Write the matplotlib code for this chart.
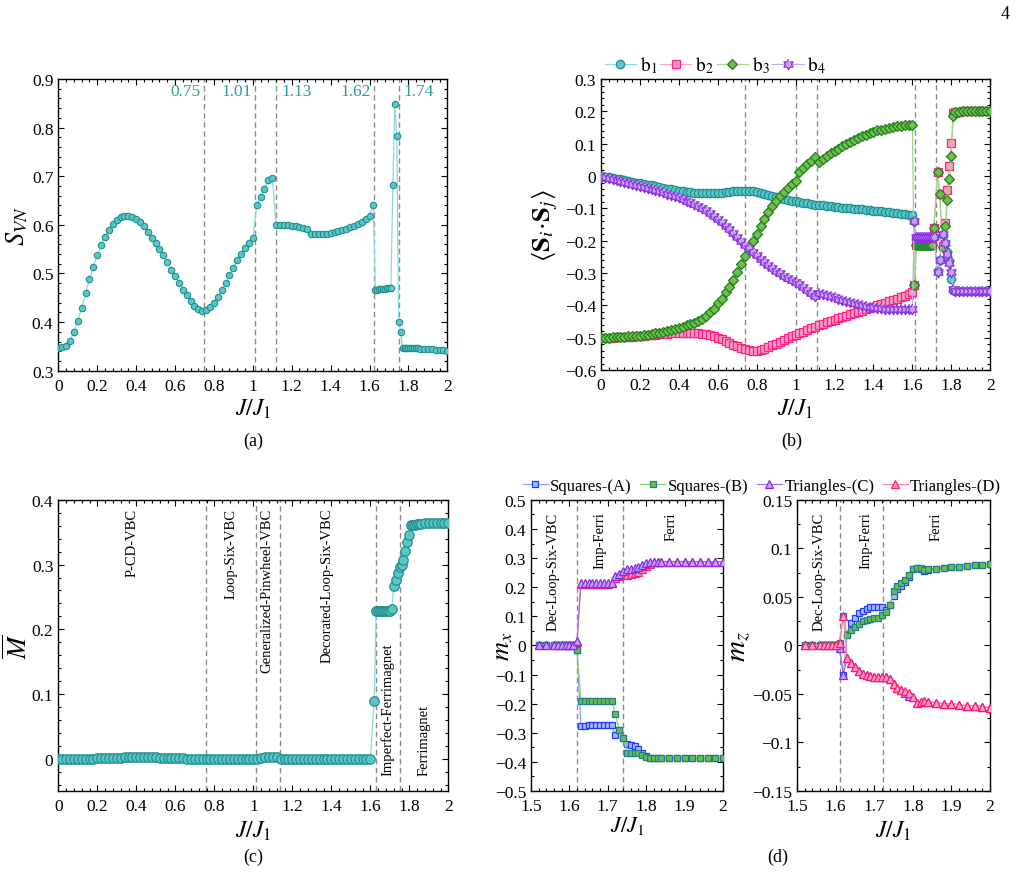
import numpy as np
import matplotlib
matplotlib.use("Agg")
import matplotlib.pyplot as plt
from matplotlib.ticker import MultipleLocator, FuncFormatter
from matplotlib.path import Path

plt.rcParams['font.family'] = ['Liberation Serif', 'DejaVu Serif']
plt.rcParams['mathtext.fontset'] = 'stix'

# ---------------- data ----------------
# (a) entanglement entropy
x_a = np.round(np.concatenate([np.arange(0, 1.621, 0.02), np.arange(1.63, 1.761, 0.01),
                               np.arange(1.77, 1.851, 0.01), np.arange(1.86, 2.001, 0.02)]), 3)
s_vn = [0.347, 0.348, 0.351, 0.361, 0.379, 0.402, 0.430, 0.459, 0.488, 0.514,
        0.537, 0.558, 0.576, 0.590, 0.602, 0.611, 0.616, 0.619, 0.619, 0.617,
        0.612, 0.605, 0.597, 0.586, 0.574, 0.563, 0.551, 0.537, 0.523, 0.508,
        0.495, 0.481, 0.467, 0.455, 0.443, 0.434, 0.427, 0.423, 0.425, 0.431,
        0.440, 0.452, 0.466, 0.480, 0.497, 0.512, 0.527, 0.541, 0.553, 0.563,
        0.572, 0.640, 0.657, 0.674, 0.692, 0.697, 0.599, 0.599, 0.599, 0.599,
        0.598, 0.597, 0.596, 0.594, 0.591, 0.582, 0.581, 0.581, 0.581, 0.582,
        0.583, 0.585, 0.587, 0.589, 0.592, 0.595, 0.598, 0.602, 0.606, 0.613,
        0.619, 0.641,
        0.467, 0.467, 0.468, 0.468, 0.469, 0.469, 0.470, 0.470, 0.471,
        0.682, 0.849, 0.782, 0.400, 0.380,
        0.347, 0.347, 0.347, 0.347, 0.347, 0.347, 0.346, 0.346, 0.346,
        0.345, 0.345, 0.344, 0.344, 0.343, 0.343, 0.342, 0.341]
lines_a = [0.75, 1.013, 1.12, 1.625, 1.75]
labels_a = ['0.75', '1.01', '1.13', '1.62', '1.74']

# (b) bond correlations
x_b = np.round(np.concatenate([np.arange(0, 1.601, 0.02), [1.61], np.arange(1.62, 1.701, 0.01),
                               [1.71, 1.73, 1.74, 1.755, 1.77, 1.78, 1.79, 1.80, 1.81],
                               np.arange(1.82, 2.001, 0.02)]), 3)
b1 = [0.000, -0.002, -0.004, -0.006, -0.008, -0.010, -0.012, -0.015, -0.017, -0.020,
      -0.022, -0.024, -0.027, -0.029, -0.032, -0.034, -0.036, -0.039, -0.041, -0.043,
      -0.045, -0.047, -0.049, -0.050, -0.051, -0.052, -0.052, -0.053, -0.053, -0.053,
      -0.052, -0.051, -0.050, -0.048, -0.047, -0.046, -0.045, -0.045, -0.045, -0.047,
      -0.050, -0.053, -0.056, -0.060, -0.063, -0.066, -0.069, -0.071, -0.074, -0.076,
      -0.078, -0.080, -0.082, -0.084, -0.086, -0.088, -0.090, -0.091, -0.093, -0.094,
      -0.096, -0.097, -0.098, -0.099, -0.100, -0.101, -0.102, -0.103, -0.104, -0.106,
      -0.107, -0.108, -0.109, -0.110, -0.112, -0.113, -0.114, -0.116, -0.117, -0.119,
      -0.121,
      -0.140,
      -0.190, -0.190, -0.190, -0.190, -0.190, -0.190, -0.190, -0.190, -0.190,
      -0.190, -0.295, -0.260, -0.182, -0.207, -0.235, -0.262, -0.317, -0.352,
      -0.355, -0.355, -0.355, -0.355, -0.355, -0.355, -0.355, -0.355, -0.355, -0.355]
b2 = [-0.500, -0.500, -0.500, -0.500, -0.499, -0.499, -0.498, -0.498, -0.497, -0.496,
      -0.495, -0.494, -0.493, -0.492, -0.491, -0.490, -0.489, -0.488, -0.487, -0.487,
      -0.486, -0.486, -0.486, -0.486, -0.486, -0.487, -0.488, -0.490, -0.493, -0.496,
      -0.500, -0.505, -0.510, -0.516, -0.522, -0.527, -0.532, -0.536, -0.539, -0.540,
      -0.540, -0.538, -0.535, -0.530, -0.524, -0.518, -0.512, -0.506, -0.500, -0.495,
      -0.491, -0.486, -0.481, -0.476, -0.471, -0.466, -0.461, -0.457, -0.452, -0.448,
      -0.444, -0.440, -0.436, -0.432, -0.428, -0.424, -0.420, -0.416, -0.412, -0.408,
      -0.404, -0.400, -0.396, -0.392, -0.387, -0.383, -0.379, -0.375, -0.370, -0.365,
      -0.358,
      -0.337,
      -0.213, -0.213, -0.213, -0.213, -0.213, -0.213, -0.213, -0.213, -0.213,
      -0.162, 0.014, -0.055, -0.215, -0.145, -0.043, 0.032, 0.103, 0.194,
      0.198, 0.199, 0.200, 0.200, 0.200, 0.200, 0.200, 0.200, 0.200, 0.200]
b3 = [-0.500, -0.500, -0.500, -0.499, -0.499, -0.498, -0.497, -0.496, -0.495, -0.495,
      -0.494, -0.493, -0.491, -0.489, -0.487, -0.485, -0.483, -0.480, -0.477, -0.474,
      -0.470, -0.466, -0.462, -0.458, -0.453, -0.448, -0.442, -0.432, -0.422, -0.410,
      -0.394, -0.380, -0.360, -0.342, -0.321, -0.298, -0.272, -0.248, -0.222, -0.200,
      -0.180, -0.155, -0.133, -0.112, -0.093, -0.076, -0.062, -0.049, -0.037, -0.025,
      -0.014, 0.012, 0.025, 0.037, 0.048, 0.058, 0.045, 0.053, 0.061, 0.070,
      0.078, 0.085, 0.092, 0.099, 0.105, 0.111, 0.117, 0.123, 0.128, 0.133,
      0.137, 0.141, 0.144, 0.147, 0.150, 0.152, 0.154, 0.156, 0.157, 0.158,
      0.159,
      -0.337,
      -0.213, -0.213, -0.213, -0.213, -0.213, -0.213, -0.213, -0.213, -0.213,
      -0.162, 0.014, -0.055, -0.219, -0.156, -0.073, -0.009, 0.063, 0.186,
      0.197, 0.199, 0.200, 0.200, 0.200, 0.200, 0.200, 0.200, 0.200, 0.200]
b4 = [-0.002, -0.004, -0.006, -0.009, -0.012, -0.015, -0.018, -0.021, -0.025, -0.028,
      -0.031, -0.034, -0.037, -0.040, -0.043, -0.046, -0.050, -0.054, -0.058, -0.062,
      -0.066, -0.071, -0.076, -0.081, -0.086, -0.092, -0.098, -0.106, -0.114, -0.123,
      -0.133, -0.143, -0.154, -0.165, -0.177, -0.188, -0.200, -0.212, -0.222, -0.235,
      -0.245, -0.256, -0.266, -0.275, -0.284, -0.293, -0.300, -0.308, -0.314, -0.320,
      -0.327, -0.335, -0.344, -0.354, -0.362, -0.370, -0.361, -0.364, -0.367, -0.371,
      -0.375, -0.379, -0.383, -0.387, -0.390, -0.394, -0.397, -0.400, -0.403, -0.405,
      -0.406, -0.408, -0.409, -0.410, -0.410, -0.411, -0.411, -0.411, -0.412, -0.412,
      -0.412,
      -0.140,
      -0.190, -0.190, -0.190, -0.190, -0.190, -0.190, -0.190, -0.190, -0.190,
      -0.190, -0.298, -0.260, -0.179, -0.208, -0.241, -0.269, -0.298, -0.350,
      -0.355, -0.355, -0.355, -0.355, -0.355, -0.355, -0.355, -0.355, -0.355, -0.355]
lines_b = [0.74, 1.0, 1.11, 1.615, 1.72]

# (c) average magnetization
x_c = np.round(np.concatenate([np.arange(0, 1.601, 0.02), [1.62], np.arange(1.63, 1.851, 0.01),
                               np.arange(1.86, 2.001, 0.02)]), 3)
m_bar = [0.000, 0.000, 0.000, 0.000, 0.000, 0.000, 0.000, 0.000, 0.000, 0.000,
         0.001, 0.001, 0.001, 0.001, 0.001, 0.001, 0.001, 0.002, 0.002, 0.002,
         0.002, 0.002, 0.002, 0.002, 0.002, 0.002, 0.001, 0.001, 0.001, 0.001,
         0.001, 0.001, 0.001, 0.000, 0.000, 0.000, 0.000, 0.000, 0.000, 0.000,
         0.000, 0.000, 0.000, 0.000, 0.000, 0.000, 0.000, 0.000, 0.000, 0.000,
         0.000, 0.000, 0.001, 0.002, 0.003, 0.003, 0.003, 0.000, 0.000, 0.000,
         0.000, 0.000, 0.000, 0.000, 0.000, 0.000, 0.000, 0.000, 0.000, 0.000,
         0.000, 0.000, 0.000, 0.000, 0.000, 0.000, 0.000, 0.000, 0.000, 0.000,
         0.000,
         0.089,
         0.228, 0.228, 0.228, 0.228, 0.228, 0.228, 0.228, 0.228, 0.232, 0.267,
         0.276, 0.287, 0.296, 0.299, 0.307, 0.321, 0.335, 0.346, 0.361, 0.362,
         0.362, 0.363, 0.363,
         0.363, 0.364, 0.364, 0.364, 0.365, 0.365, 0.365, 0.365]
lines_c = [0.757, 1.015, 1.135, 1.628, 1.753]
phases_c = ['P-CD-VBC', 'Loop-Six-VBC', 'Generalized-Pinwheel-VBC', 'Decorated-Loop-Six-VBC',
            'Imperfect-Ferrimagnet', 'Ferrimagnet']
phase_x_c = [0.378, 0.887, 1.07, 1.38, 1.687, 1.875]

# (d) sublattice magnetizations
x_d = np.round(np.concatenate([[1.52, 1.54, 1.56, 1.57, 1.58, 1.59, 1.60, 1.61],
                               np.arange(1.62, 1.841, 0.01), np.arange(1.86, 2.001, 0.02)]), 3)
tail_mx_sq = [-0.388] * 8
mx_A = [0, 0, 0, 0, 0, 0, 0, 0,
        -0.015, -0.277, -0.276, -0.275, -0.275, -0.274, -0.274, -0.273, -0.274, -0.275,
        -0.306, -0.289, -0.317, -0.340, -0.341, -0.346, -0.357, -0.369, -0.380, -0.387,
        -0.388, -0.388, -0.388] + tail_mx_sq
mx_B = [0, 0, 0, 0, 0, 0, 0, 0,
        -0.015, -0.190, -0.190, -0.190, -0.190, -0.190, -0.190, -0.190, -0.190, -0.190,
        -0.236, -0.291, -0.318, -0.369, -0.369, -0.369, -0.371, -0.375, -0.382, -0.387,
        -0.388, -0.388, -0.388] + tail_mx_sq
mx_C = [0.002, 0.002, 0.002, 0.002, 0.002, 0.002, 0.002, 0.002,
        0.015, 0.216, 0.215, 0.214, 0.214, 0.213, 0.213, 0.213, 0.213, 0.215,
        0.239, 0.247, 0.257, 0.262, 0.264, 0.266, 0.271, 0.276, 0.283, 0.287,
        0.288, 0.288, 0.288,
        0.288, 0.288, 0.288, 0.288, 0.288, 0.288, 0.288, 0.288]
mx_D = [0.002, 0.002, 0.002, 0.002, 0.002, 0.002, 0.002, 0.002,
        0.012, 0.212, 0.212, 0.212, 0.212, 0.212, 0.212, 0.212, 0.212, 0.213,
        0.232, 0.237, 0.241, 0.243, 0.245, 0.248, 0.254, 0.262, 0.272, 0.280,
        0.286, 0.287, 0.287,
        0.287, 0.287, 0.287, 0.287, 0.287, 0.287, 0.287, 0.287]
tail_mz_sq = [0.079, 0.080, 0.081, 0.081, 0.082, 0.083, 0.083, 0.084]
mz_A = [0, 0, 0, 0, 0, 0, 0, -0.003,
        -0.030, 0.012, 0.023, 0.028, 0.033, 0.036, 0.038, 0.040, 0.040, 0.040,
        0.040, 0.037, 0.042, 0.051, 0.058, 0.061, 0.065, 0.071, 0.079, 0.080,
        0.079, 0.077, 0.078] + tail_mz_sq
mz_B = [0, 0, 0, 0, 0, 0, 0, 0.003,
        0.030, 0.011, 0.016, 0.019, 0.022, 0.025, 0.026, 0.027, 0.028, 0.028,
        0.031, 0.035, 0.042, 0.056, 0.061, 0.064, 0.067, 0.073, 0.079, 0.080,
        0.080, 0.078, 0.079] + tail_mz_sq
tail_mz_tr = [-0.059, -0.060, -0.060, -0.061, -0.062, -0.062, -0.063, -0.064]
mz_C = [0, 0, 0, 0, 0, 0, 0, -0.003,
        -0.030, -0.013, -0.018, -0.022, -0.026, -0.029, -0.030, -0.031, -0.032, -0.032,
        -0.032, -0.032, -0.035, -0.040, -0.044, -0.046, -0.049, -0.052, -0.053, -0.059,
        -0.058, -0.057, -0.058] + tail_mz_tr
mz_D = [0, 0, 0, 0, 0, 0, 0, 0.003,
        0.030, -0.013, -0.018, -0.022, -0.026, -0.029, -0.030, -0.031, -0.032, -0.032,
        -0.032, -0.032, -0.035, -0.040, -0.044, -0.046, -0.047, -0.049, -0.053, -0.059,
        -0.058, -0.057, -0.058] + tail_mz_tr
lines_dx = [1.621, 1.74]
lines_dz = [1.612, 1.722]
phases_d = ['Dec-Loop-Six-VBC', 'Imp-Ferri', 'Ferri']
phase_x_dx = [1.557, 1.68, 1.866]
phase_x_dz = [1.558, 1.678, 1.859]

# ---------------- style ----------------
TEAL = dict(mfc='#5cc6c6', mec='#1f8f8f', color='#8fd8d8')
PINK = dict(mfc='#fb9cc2', mec='#ff1f85', color='#f7a8c8')
GREEN = dict(mfc='#72c04c', mec='#1f7f1f', color='#a3d58a')
PURPLE = dict(mfc='#c9a6f5', mec='#8a2be2', color='#c9a9f0')
BLUE_SQ = dict(mfc='#a9b8ff', mec='#1f3cff', color='#8fa2ff')
GREEN_SQ = dict(mfc='#6cbd48', mec='#1f7f8f', color='#8ccf6a')
PURP_TR = dict(mfc='#c2a0ff', mec='#8a2be2', color='#a070f0')
PINK_TR = dict(mfc='#ff9dc4', mec='#ff1a75', color='#ff7fb0')
DASH = dict(color='#8c8c8c', ls=(0, (4, 2.5)), lw=1.0, zorder=1)
TICK_FS = 12.5
PHASE_FS = 10.5
XLAB_FS = 17

ang = np.deg2rad(np.arange(12) * 30 + 90)
rad = np.where(np.arange(12) % 2 == 0, 1.0, 0.577)
hexagram = Path(np.column_stack([rad * np.cos(ang), rad * np.sin(ang)]))


def fmt(v, pos):
    s = '%g' % round(v, 6)
    return s.replace('-', '\u2212')


def style(ax, xmaj, xmin, ymaj, ymin):
    ax.xaxis.set_major_locator(MultipleLocator(xmaj))
    ax.xaxis.set_minor_locator(MultipleLocator(xmin))
    ax.yaxis.set_major_locator(MultipleLocator(ymaj))
    ax.yaxis.set_minor_locator(MultipleLocator(ymin))
    ax.xaxis.set_major_formatter(FuncFormatter(fmt))
    ax.yaxis.set_major_formatter(FuncFormatter(fmt))
    ax.tick_params(which='both', direction='in', top=True, right=True, labelsize=TICK_FS, width=0.8)
    ax.tick_params(which='major', length=4)
    ax.tick_params(which='minor', length=2)
    ax.tick_params(axis='x', pad=5)
    for sp in ax.spines.values():
        sp.set_linewidth(1.0)


fig = plt.figure(figsize=(10.25, 8.79), dpi=100)

# (a)
ax_a = fig.add_axes([0.0569, 0.5771, 0.3795, 0.3319])
ax_a.plot(x_a, s_vn, marker='o', ms=4.6, mew=0.8, lw=0.9, zorder=3, **TEAL)
for xl, lab in zip(lines_a, labels_a):
    ax_a.axvline(xl, **DASH)
    if lab in ('1.13', '1.74'):
        ax_a.text(xl + 0.025, 0.875, lab, color='#2a9d9a', fontsize=12.5, ha='left', va='center')
    else:
        ax_a.text(xl - 0.02, 0.875, lab, color='#2a9d9a', fontsize=12.5, ha='right', va='center')
ax_a.set_xlim(0, 2)
ax_a.set_ylim(0.3, 0.9)
style(ax_a, 0.2, 0.04, 0.1, 0.02)
ax_a.set_xlabel(r'$J/J_1$', fontsize=XLAB_FS)
ax_a.set_ylabel(r'$S_{VN}$', fontsize=19)
ax_a.xaxis.set_label_coords(0.5, -0.09)
ax_a.yaxis.set_label_coords(-0.073, 0.5)

# (b)
ax_b = fig.add_axes([0.5863, 0.5779, 0.3798, 0.3310])
ax_b.plot(x_b, b1, marker='o', ms=6.0, mew=0.9, lw=0.9, label=r'$\mathrm{b}_1$', zorder=3, **TEAL)
ax_b.plot(x_b, b2, marker='s', ms=5.8, mew=0.9, lw=0.9, label=r'$\mathrm{b}_2$', zorder=3, **PINK)
ax_b.plot(x_b, b3, marker='D', ms=5.0, mew=0.9, lw=0.9, label=r'$\mathrm{b}_3$', zorder=4, **GREEN)
ax_b.plot(x_b, b4, marker=hexagram, ms=7.5, mew=0.9, lw=0.9, label=r'$\mathrm{b}_4$', zorder=4, **PURPLE)
for xl in lines_b:
    ax_b.axvline(xl, **DASH)
ax_b.set_xlim(0, 2)
ax_b.set_ylim(-0.6, 0.3)
style(ax_b, 0.2, 0.04, 0.1, 0.02)
ax_b.set_xlabel(r'$J/J_1$', fontsize=XLAB_FS)
ax_b.set_ylabel(r'$\langle\mathbf{S}_i\!\cdot\!\mathbf{S}_j\rangle$', fontsize=19)
ax_b.xaxis.set_label_coords(0.5, -0.09)
ax_b.yaxis.set_label_coords(-0.105, 0.5)
ax_b.legend(loc='lower left', bbox_to_anchor=(0.0, 1.0), ncol=4, frameon=False, fontsize=14,
            handlelength=1.6, handletextpad=0.2, columnspacing=0.15, borderaxespad=0.1,
            borderpad=0.1)

# (c)
ax_c = fig.add_axes([0.0569, 0.0990, 0.3805, 0.3311])
ax_c.plot(x_c, m_bar, marker='o', ms=6.8, mew=0.9, lw=0.9, zorder=3, **TEAL)
for xl in lines_c:
    ax_c.axvline(xl, **DASH)
for px, lab in zip(phase_x_c, phases_c):
    if lab in ('Imperfect-Ferrimagnet', 'Ferrimagnet'):
        ax_c.text(px, -0.026, lab, rotation=90, fontsize=PHASE_FS, ha='center', va='bottom')
    else:
        ax_c.text(px, 0.388, lab, rotation=90, fontsize=PHASE_FS, ha='center', va='top')
ax_c.set_xlim(0, 2)
ax_c.set_ylim(-0.05, 0.4)
style(ax_c, 0.2, 0.04, 0.1, 0.02)
ax_c.set_xlabel(r'$J/J_1$', fontsize=XLAB_FS)
ax_c.set_ylabel(r'$\overline{M}$', fontsize=19)
ax_c.xaxis.set_label_coords(0.5, -0.095)
ax_c.yaxis.set_label_coords(-0.068, 0.5)

# (d) left: m_x
ax_dx = fig.add_axes([0.5180, 0.0990, 0.1873, 0.3311])
ax_dx.plot(x_d, mx_A, marker='s', ms=5.0, mew=0.9, lw=0.9, zorder=3, label='Squares-(A)', **BLUE_SQ)
ax_dx.plot(x_d, mx_B, marker='s', ms=5.0, mew=0.9, lw=0.9, zorder=4, label='Squares-(B)', **GREEN_SQ)
ax_dx.plot(x_d, mx_D, marker='^', ms=5.2, mew=0.9, lw=0.9, zorder=3, label='Triangles-(D)', **PINK_TR)
ax_dx.plot(x_d, mx_C, marker='^', ms=5.2, mew=0.9, lw=0.9, zorder=4, label='Triangles-(C)', **PURP_TR)
for xl in lines_dx:
    ax_dx.axvline(xl, **DASH)
for px, lab in zip(phase_x_dx, phases_d):
    ax_dx.text(px, 0.46, lab, rotation=90, fontsize=PHASE_FS, ha='center', va='top')
ax_dx.set_xlim(1.5, 2)
ax_dx.set_ylim(-0.5, 0.5)
style(ax_dx, 0.1, 0.02, 0.1, 0.05)
ax_dx.set_xlabel(r'$J/J_1$', fontsize=16)
ax_dx.set_ylabel(r'$m_x$', fontsize=19)
ax_dx.xaxis.set_label_coords(0.5, -0.08)
ax_dx.yaxis.set_label_coords(-0.083, 0.5)

# (d) right: m_z
ax_dz = fig.add_axes([0.7776, 0.0990, 0.1883, 0.3311])
ax_dz.plot(x_d, mz_A, marker='s', ms=5.0, mew=0.9, lw=0.9, zorder=3, **BLUE_SQ)
ax_dz.plot(x_d, mz_B, marker='s', ms=5.0, mew=0.9, lw=0.9, zorder=4, **GREEN_SQ)
ax_dz.plot(x_d, mz_C, marker='^', ms=5.2, mew=0.9, lw=0.9, zorder=3, **PURP_TR)
ax_dz.plot(x_d, mz_D, marker='^', ms=5.2, mew=0.9, lw=0.9, zorder=4, **PINK_TR)
for xl in lines_dz:
    ax_dz.axvline(xl, **DASH)
for px, lab in zip(phase_x_dz, phases_d):
    ax_dz.text(px, 0.138, lab, rotation=90, fontsize=PHASE_FS, ha='center', va='top')
ax_dz.set_xlim(1.5, 2)
ax_dz.set_ylim(-0.15, 0.15)
style(ax_dz, 0.1, 0.02, 0.05, 0.025)
ax_dz.set_xlabel(r'$J/J_1$', fontsize=XLAB_FS)
ax_dz.set_ylabel(r'$m_z$', fontsize=21)
ax_dz.xaxis.set_label_coords(0.5, -0.095)
ax_dz.yaxis.set_label_coords(-0.228, 0.5)

# legend for (d) in A, B, C, D order
h, l = ax_dx.get_legend_handles_labels()
order = [0, 1, 3, 2]
fig.legend([h[i] for i in order], [l[i] for i in order], loc='center', bbox_to_anchor=(0.7434, 0.446),
           ncol=4, frameon=False, fontsize=12, handlelength=1.5, handletextpad=0.15,
           columnspacing=0.5, borderpad=0.1)

# panel tags and page number
fig.text(0.2468, 0.4983, '(a)', fontsize=13, ha='center', va='center')
fig.text(0.7727, 0.4983, '(b)', fontsize=13, ha='center', va='center')
fig.text(0.2468, 0.0250, '(c)', fontsize=13, ha='center', va='center')
fig.text(0.7590, 0.0250, '(d)', fontsize=13, ha='center', va='center')
fig.text(0.9805, 0.984, '4', fontsize=13, ha='center', va='center')

fig.savefig('out.png', dpi=100)
